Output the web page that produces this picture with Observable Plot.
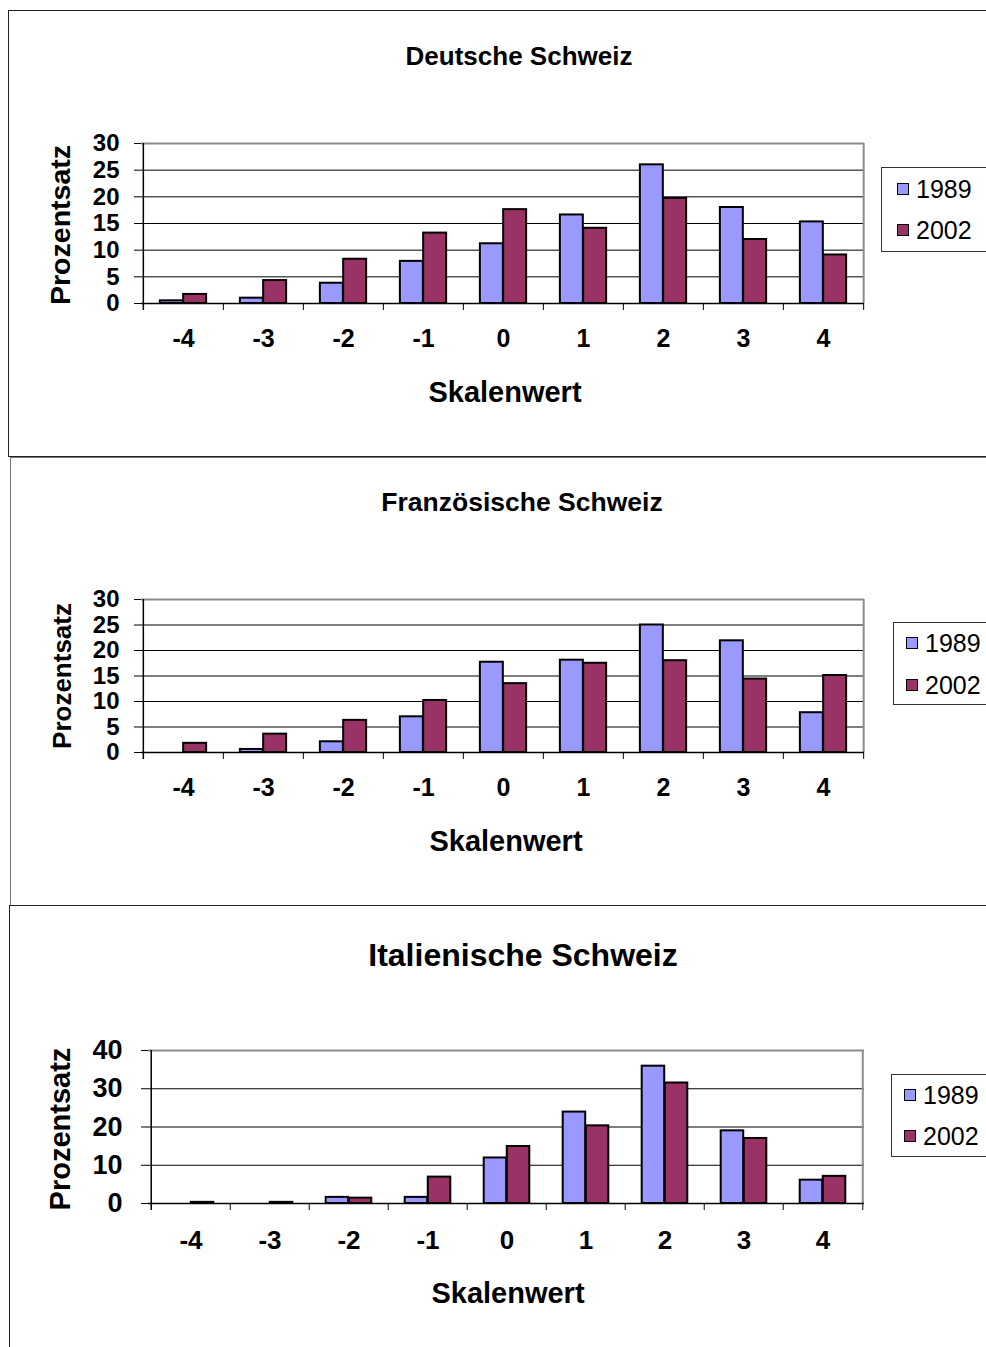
<!DOCTYPE html>
<html>
<head>
<meta charset="utf-8">
<script src="https://cdn.jsdelivr.net/npm/d3@7"></script>
<script src="https://cdn.jsdelivr.net/npm/@observablehq/plot@0.6"></script>
<style>
  html, body { margin: 0; padding: 0; background: #fff; }
  body { width: 986px; height: 1347px; overflow: hidden; position: relative;
         font-family: "Liberation Sans", Arial, Helvetica, sans-serif; color: #000; }
  .box { position: absolute; box-sizing: border-box; }
  .t { position: absolute; white-space: nowrap; font-weight: bold; transform: translate(-50%, -50%); line-height: 1; }
  .yl { position: absolute; white-space: nowrap; font-weight: bold; line-height: 1;
        transform: translate(-50%, -50%) rotate(-90deg); }
  .legend { position: absolute; box-sizing: border-box; border: 1px solid #333; background: #fff; }
  .li { position: absolute; display: flex; align-items: center; font-size: 25px; line-height: 1; white-space: nowrap; }
  .sw { display: inline-block; width: 10px; height: 10px; border: 1.5px solid #000; margin-right: 7px; }
  .plot { position: absolute; left: 0; }
</style>
</head>
<body>
<script>
// ---------- data ----------
const categories = ["-4", "-3", "-2", "-1", "0", "1", "2", "3", "4"];
const seriesNames = ["1989", "2002"];
const seriesColors = ["#9999ff", "#993366"];

const titles = ["Deutsche Schweiz", "Französische Schweiz", "Italienische Schweiz"];
const yLabel = "Prozentsatz";
const xLabel = "Skalenwert";

const deutsch1989 = [0.5, 1.0, 3.8, 7.9, 11.2, 16.6, 26.0, 18.0, 15.3];
const deutsch2002 = [1.7, 4.3, 8.3, 13.2, 17.6, 14.1, 19.7, 12.0, 9.1];
const franz1989 = [0, 0.6, 2.1, 7.0, 17.7, 18.1, 25.0, 21.9, 7.8];
const franz2002 = [1.8, 3.6, 6.3, 10.2, 13.5, 17.5, 18.0, 14.4, 15.1];
const ital1989 = [0, 0, 1.6, 1.6, 11.9, 23.9, 35.9, 19.0, 6.1];
const ital2002 = [0.3, 0.3, 1.4, 6.9, 14.9, 20.3, 31.5, 17.0, 7.1];

const ticks30 = [0, 5, 10, 15, 20, 25, 30];
const ticks40 = [0, 10, 20, 30, 40];

// ---------- layout ----------
const panels = [
  { title: titles[0], v1: deutsch1989, v2: deutsch2002, yTicks: ticks30,
    box: {left: 8, top: 10, height: 447, color: "#222"},
    titleX: 519, titleY: 56, titleSize: 26,
    plotLeft: 141, plotRight: 864, plotTop: 143, plotBottom: 303,
    yFont: 24, yPad: 18, xFont: 25, xPad: 26,
    ylX: 60, ylY: 225, ylSize: 28.5,
    xlX: 505, xlY: 392, xlSize: 29,
    legend: {left: 881, top: 167, height: 85, sq: 897, e1: 189, e2: 230} },
  { title: titles[1], v1: franz1989, v2: franz2002, yTicks: ticks30,
    box: {left: 10, top: 457, height: 449, color: "#777"},
    titleX: 522, titleY: 502, titleSize: 26.5,
    plotLeft: 141, plotRight: 864, plotTop: 599, plotBottom: 752,
    yFont: 24, yPad: 18, xFont: 25, xPad: 26,
    ylX: 62, ylY: 676, ylSize: 26,
    xlX: 506, xlY: 841, xlSize: 29,
    legend: {left: 893, top: 622, height: 83, sq: 906, e1: 643, e2: 685} },
  { title: titles[2], v1: ital1989, v2: ital2002, yTicks: ticks40,
    box: {left: 9, top: 905, height: 460, color: "#222"},
    titleX: 523, titleY: 955, titleSize: 32,
    plotLeft: 148, plotRight: 864, plotTop: 1050, plotBottom: 1203,
    yFont: 27, yPad: 22, xFont: 26, xPad: 27,
    ylX: 60, ylY: 1129, ylSize: 29,
    xlX: 508, xlY: 1293, xlSize: 29,
    legend: {left: 891, top: 1074, height: 83, sq: 904, e1: 1095, e2: 1136} }
];

function el(tag, cls, css, text) {
  const e = document.createElement(tag);
  if (cls) e.className = cls;
  Object.assign(e.style, css || {});
  if (text != null) e.textContent = text;
  document.body.appendChild(e);
  return e;
}

for (const p of panels) {
  // panel border
  el("div", "box", {left: p.box.left + "px", top: p.box.top + "px", width: "1200px",
    height: p.box.height + "px", border: "1.5px solid " + p.box.color});

  // title
  el("div", "t", {left: p.titleX + "px", top: p.titleY + "px", fontSize: p.titleSize + "px"}, p.title);

  // chart
  const marginTop = 30, marginBottom = 70, marginRight = 20;
  const plotH = p.plotBottom - p.plotTop;
  const width = p.plotRight + marginRight;
  const height = marginTop + plotH + marginBottom;
  const bw = (p.plotRight - p.plotLeft) / categories.length;
  const ymax = p.yTicks[p.yTicks.length - 1];
  const rows = categories.map((c, i) => ({c, a: p.v1[i], b: p.v2[i]}));

  const chart = Plot.plot({
    width, height,
    marginLeft: p.plotLeft, marginRight, marginTop, marginBottom,
    style: {fontFamily: '"Liberation Sans", Arial, sans-serif', color: "#000", background: "transparent", overflow: "visible"},
    x: {domain: categories, padding: 0, axis: null},
    y: {domain: [0, ymax], axis: null},
    marks: [
      Plot.ruleY(p.yTicks.slice(1, -1), {stroke: "#000", strokeWidth: 1}),
      Plot.ruleY([ymax], {stroke: "#8c8c8c", strokeWidth: 2}),
      Plot.ruleX([categories[categories.length - 1]], {dx: bw / 2, stroke: "#8c8c8c", strokeWidth: 2}),
      Plot.barY(rows, {x: "c", y1: 0, y2: "a", fill: seriesColors[0], stroke: "#000", strokeWidth: 2,
        insetLeft: bw * 0.21, insetRight: bw * 0.5}),
      Plot.barY(rows, {x: "c", y1: 0, y2: "b", fill: seriesColors[1], stroke: "#000", strokeWidth: 2,
        insetLeft: bw * 0.5, insetRight: bw * 0.21}),
      Plot.ruleY([0], {stroke: "#000", strokeWidth: 1.5}),
      Plot.ruleX([categories[0]], {dx: -bw / 2, stroke: "#000", strokeWidth: 1.5, insetBottom: -7}),
      Plot.ruleX(categories.slice(1), {dx: -bw / 2, stroke: "#000", strokeWidth: 1, insetTop: plotH, insetBottom: -7}),
      Plot.ruleX([categories[categories.length - 1]], {dx: bw / 2, stroke: "#000", strokeWidth: 1, insetTop: plotH, insetBottom: -7}),
      Plot.axisY({ticks: p.yTicks, tickSize: 7, tickPadding: p.yPad - 3, fontSize: p.yFont, fontWeight: "bold",
        label: null, tickFormat: d => String(d), stroke: "#000"}),
      Plot.axisX({tickSize: 0, tickPadding: p.xPad, fontSize: p.xFont, fontWeight: "bold", label: null})
    ]
  });
  chart.classList.add("plot");
  chart.style.top = (p.plotTop - marginTop) + "px";
  chart.style.position = "absolute";
  document.body.appendChild(chart);

  // axis titles
  el("div", "yl", {left: p.ylX + "px", top: p.ylY + "px", fontSize: p.ylSize + "px"}, yLabel);
  el("div", "t", {left: p.xlX + "px", top: p.xlY + "px", fontSize: p.xlSize + "px"}, xLabel);

  // legend
  el("div", "legend", {left: p.legend.left + "px", top: p.legend.top + "px", width: "200px", height: p.legend.height + "px"});
  [p.legend.e1, p.legend.e2].forEach((yy, k) => {
    const li = el("div", "li", {left: p.legend.sq + "px", top: (yy - 13) + "px", height: "26px"});
    const sw = document.createElement("span");
    sw.className = "sw";
    sw.style.background = seriesColors[k];
    li.appendChild(sw);
    li.appendChild(document.createTextNode(seriesNames[k]));
  });
}
</script>
</body>
</html>
